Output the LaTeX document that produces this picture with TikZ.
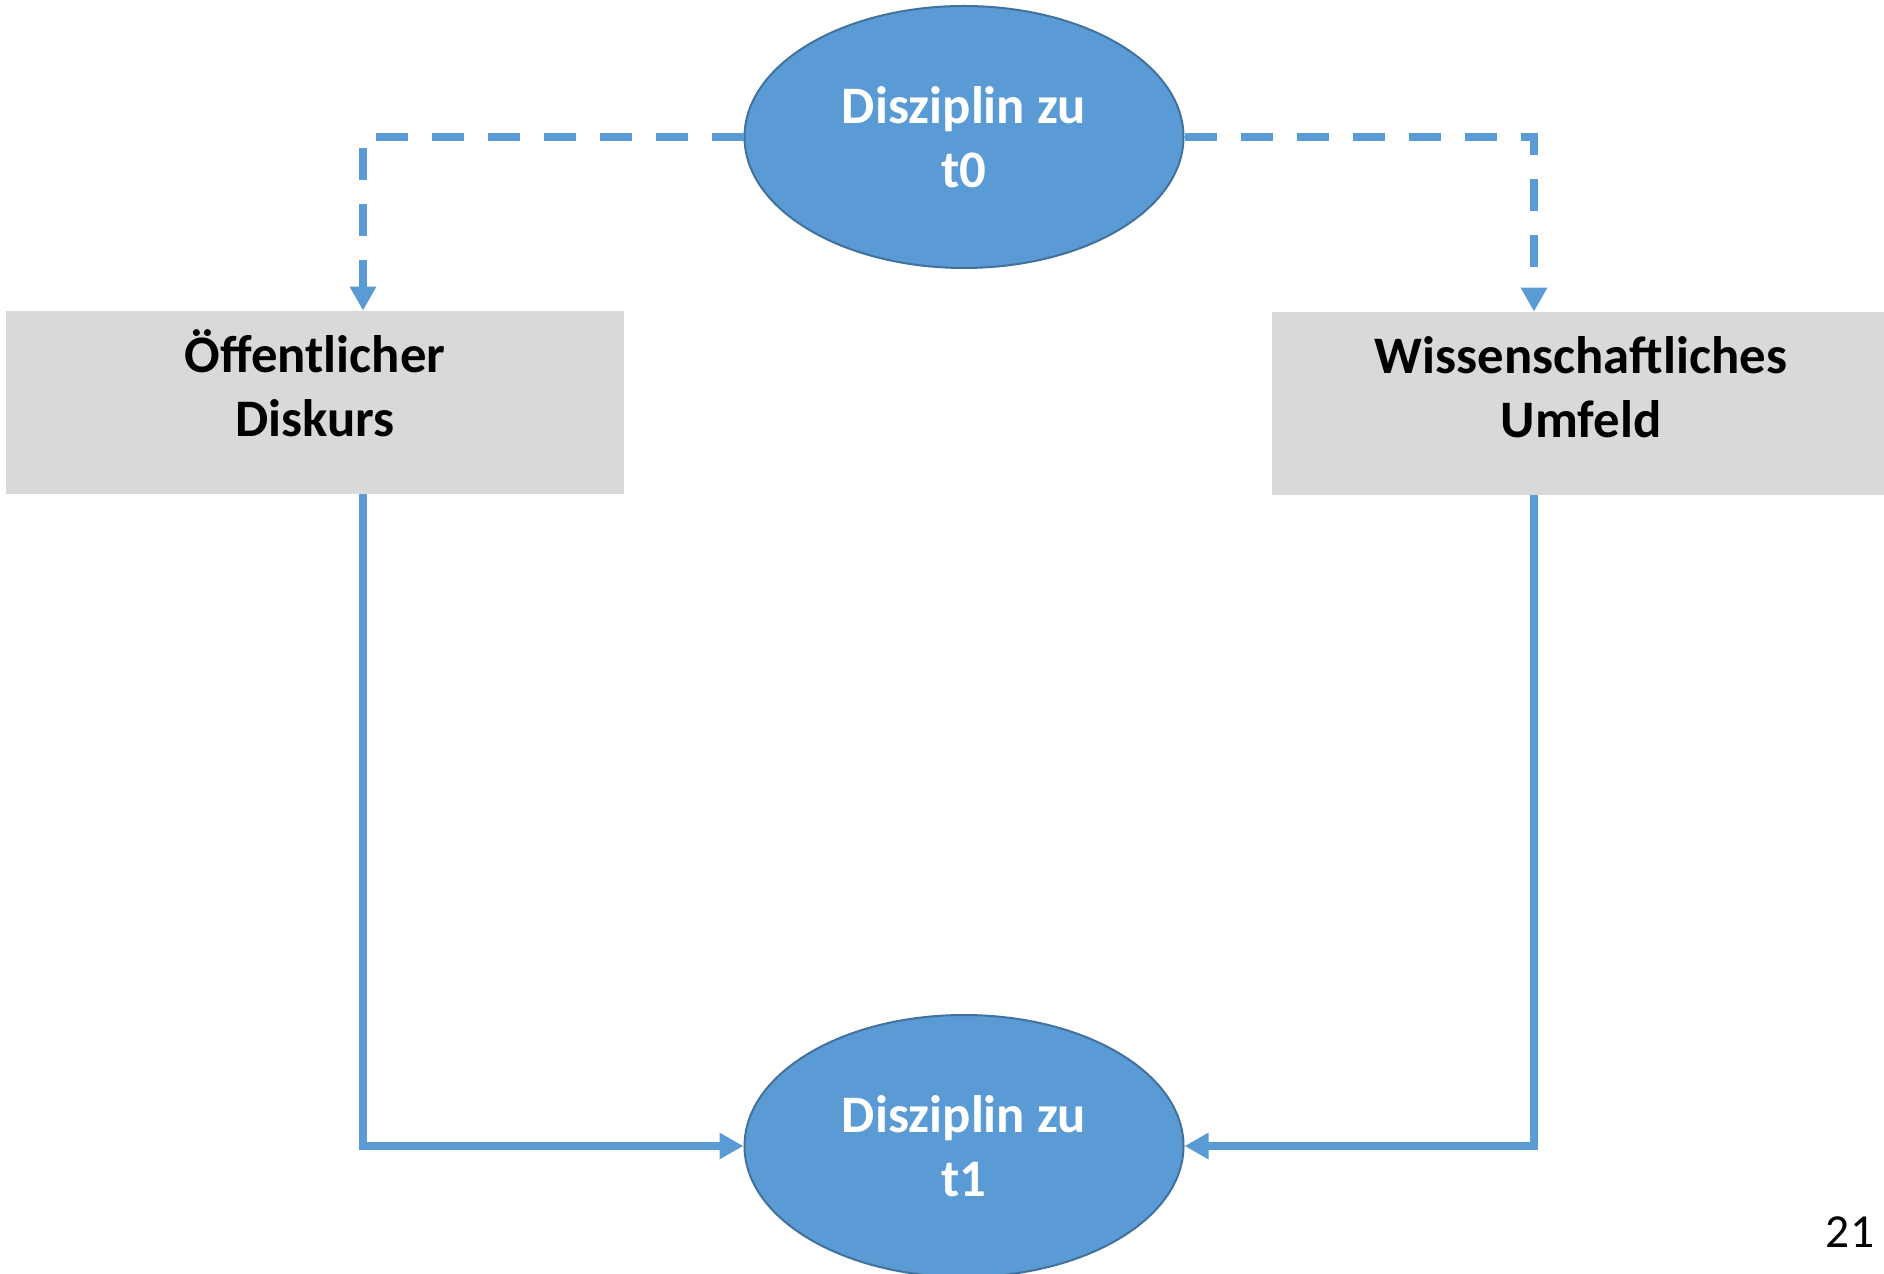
\documentclass[tikz,border=0pt]{standalone}
\usepackage{fontspec}
\setmainfont{Carlito}
\usetikzlibrary{arrows.meta,positioning,shapes.geometric}

\definecolor{blau}{HTML}{5B9BD5}
\definecolor{blaurand}{HTML}{41719C}
\definecolor{grau}{HTML}{D9D9D9}

\tikzset
{
	zustand/.style =
	{
		ellipse,
		fill			= blau,
		draw			= blaurand,
		line width		= 0.04cm,
		minimum width	= 8.78cm,
		minimum height	= 5.24cm,
		inner sep		= 0pt,
		align			= center,
		text			= white,
		font			= \fontsize{30}{36.4}\selectfont\bfseries
	},
	kontext/.style =
	{
		rectangle,
		fill			= grau,
		minimum width	= 12.36cm,
		minimum height	= 3.66cm,
		inner sep		= 0pt,
		align			= center,
		text			= black,
		text height		= 2.2cm,
		text depth		= 0.84cm,
		font			= \fontsize{30}{36.4}\selectfont\bfseries
	},
	pfeil/.style =
	{
		draw			= blau,
		line width		= 0.15cm,
		-{Triangle[length=0.48cm,width=0.5cm]}
	},
	gestrichelt/.style =
	{
		dash pattern	= on 0.64cm off 0.48cm
	}
}

\begin{document}
\begin{tikzpicture}
		%
		\useasboundingbox (0,0) rectangle (37.68,25.46);
		%
		\node[zustand]	(t0)		at (19.28,22.72)	{Disziplin zu\\t0};
		\node[zustand]	(t1)		at (19.28,2.54)		{Disziplin zu\\t1};
		%
		\node[kontext]	(diskurs)	at (6.30,17.41)		{Öffentlicher\\Diskurs};
		\node[kontext]	(umfeld)	at (31.62,17.39)	{Wissenschaftliches\\Umfeld};
		%
		\coordinate		(links)		at (7.26,0);
		\coordinate		(rechts)	at (30.68,0);
		%
		\draw[pfeil, gestrichelt]	(t0.west) -| (links |- diskurs.north);
		\draw[pfeil, gestrichelt]	(t0.east) -| (rechts |- umfeld.north);
		\draw[pfeil]				(links |- diskurs.south) |- (t1.west);
		\draw[pfeil]				(rechts |- umfeld.south) |- (t1.east);
		%
		\node[font = \fontsize{27}{32}\selectfont]	(seite)	at (37.0,0.82)	{21};
		%
	\end{tikzpicture}
\end{document}
